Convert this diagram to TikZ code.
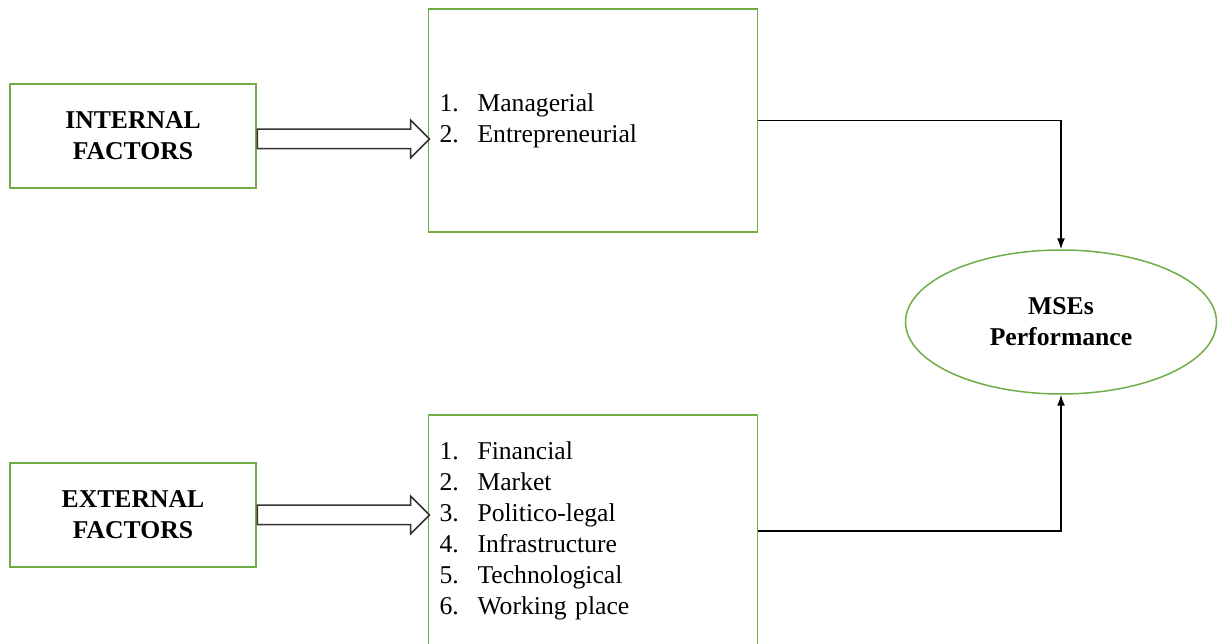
\documentclass[tikz,border=0pt]{standalone}
\usepackage{fontspec}
\setmainfont{Liberation Serif}
\usetikzlibrary{positioning,shapes.geometric,shapes.arrows,arrows.meta}

\definecolor{boxgreen}{RGB}{112,173,71}
% numbered entry inside the list boxes
\newcommand{\itm}[2]{\makebox[0.76cm][l]{#1}#2}

\begin{document}
\begin{tikzpicture}[x=0.02cm, y=-0.02cm,
  factor/.style={draw=boxgreen, line width=0.03cm, rectangle, minimum width=4.92cm, minimum height=2.08cm, font=\fontsize{14.6}{17.6}\selectfont\bfseries, align=center},
  listbox/.style={draw=boxgreen, line width=0.03cm, rectangle, inner xsep=0.22cm, text width=6.14cm, align=left, font=\fontsize{14.6}{17.6}\selectfont},
  perf/.style={draw=boxgreen, line width=0.03cm, ellipse, minimum width=6.22cm, minimum height=2.88cm, inner sep=0pt, font=\fontsize{14.6}{17.6}\selectfont\bfseries, align=center},
  fatarrow/.style={draw=black!80, line width=0.03cm, single arrow, single arrow head extend=0.18cm, inner xsep=0pt, inner ysep=0.18cm, minimum height=3.44cm, anchor=west},
  link/.style={draw, line width=0.03cm, -{Latex[length=0.22cm,width=0.16cm]}}]

\useasboundingbox (0,0) rectangle (1221,644);

% Nodes
\node[factor] (internal) at (133,136) {INTERNAL\\FACTORS};
\node[listbox, minimum height=4.46cm] (intlist) at (593,120.5) {\itm{1.}{Managerial}\\\itm{2.}{Entrepreneurial}};
\node[factor] (external) at (133,515) {EXTERNAL\\FACTORS};
\node[listbox, minimum height=4.64cm] (extlist) at (593,531) {\itm{1.}{Financial}\\\itm{2.}{Market}\\\itm{3.}{Politico-legal}\\\itm{4.}{Infrastructure}\\\itm{5.}{Technological}\\\itm{6.}{Working place}};
\node[perf] (perf) at (1061,322) {MSEs\\Performance};

% Arrows
\node[fatarrow] (intarrow) at ([yshift=-0.06cm]internal.east) {};
\node[fatarrow] (extarrow) at (external.east) {};
\draw[link] (intlist.east) -| (perf.north);
\draw[link] (extlist.east) -| (perf.south);

\end{tikzpicture}
\end{document}
